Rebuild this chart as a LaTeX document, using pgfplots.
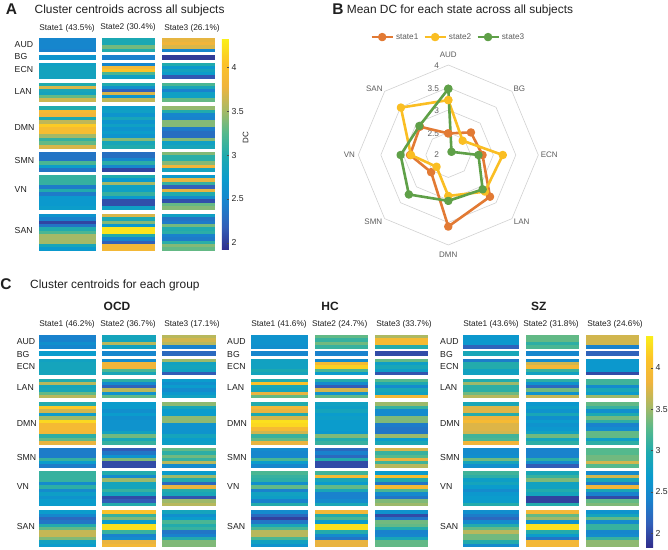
\documentclass[border=0pt]{standalone}
\usepackage{pgfplots}
\usepackage{pgfplotstable}
\usepackage{fontspec}
\setmainfont{Liberation Sans}
\pgfplotsset{compat=1.18}
\usepgfplotslibrary{polar}
\pgfdeclareplotmark{cell}{\pgfpathrectangle{\pgfpoint{-\pgfplotmarksize}{-1.85pt}}{\pgfpoint{2\pgfplotmarksize}{3.7pt}}\pgfusepathqfill}
\pgfplotstableread{
y A1 A2 A3 O1 O2 O3 H1 H2 H3 Z1 Z2 Z3
40.35 2.5 2.95 3.75 2.4 2.85 3.6 2.6 3.3 3.55 2.65 3.3 3.7
43.78 2.5 2.95 3.8 2.4 2.85 3.7 2.6 3.1 3.95 2.65 3.3 3.7
47.22 2.5 3.35 3.7 2.55 3.6 3.6 2.6 3.35 3.95 2.65 3.05 3.7
50.65 2.45 3.0 2.5 2.45 2.8 2.4 2.55 3.1 3.0 2.15 3.2 2.4
56.85 2.65 2.45 2.0 2.7 2.45 2.2 2.45 2.4 2.0 2.9 2.45 2.15
58.15 2.65 2.45 2.0 2.7 2.45 2.2 2.45 2.4 2.0 2.9 2.45 2.15
64.85 2.8 2.5 3.0 2.8 2.5 3.5 2.8 2.5 3.3 2.35 2.5 2.65
67.93 2.85 3.85 2.7 2.85 3.85 2.8 2.8 3.95 2.75 3.0 3.7 2.65
71 2.85 4.05 2.85 2.85 3.85 2.85 2.8 4.2 2.9 3.0 3.9 2.65
74.08 2.85 3.2 2.75 2.85 3.2 2.8 2.95 3.2 2.75 2.8 3.1 2.65
77.15 2.85 2.8 2.15 2.85 2.9 2.1 2.85 2.7 2.05 2.8 2.8 2.0
84.85 3.0 3.0 3.2 3.0 3.05 2.7 3.0 3.0 3.25 3.0 3.05 3.15
87.91 3.7 2.6 2.9 3.6 2.5 2.55 4.1 2.5 2.95 3.5 2.6 3.15
90.97 2.9 2.2 2.45 2.85 2.15 2.7 2.9 2.1 2.5 3.05 2.2 2.5
94.03 2.85 3.7 2.8 2.9 3.6 2.5 2.85 3.7 2.9 3.05 3.35 2.9
97.09 3.3 2.65 2.8 3.3 2.6 2.65 3.8 2.6 2.8 3.35 2.6 2.7
100.15 3.65 3.6 3.3 3.6 3.3 2.8 3.3 3.3 3.9 3.6 3.65 3.5
107.85 3.0 2.75 3.45 3.0 2.7 3.45 3.0 2.8 3.5 2.9 2.65 3.3
111.38 3.9 2.8 3.0 4.15 2.7 2.9 3.9 2.75 3.1 3.75 2.75 3.1
114.9 3.8 2.65 2.5 3.7 2.55 2.7 3.8 2.85 2.5 3.75 2.6 2.55
118.43 2.95 2.9 2.45 2.7 2.7 2.7 2.95 2.7 2.5 3.0 2.9 2.95
121.96 3.6 2.65 3.4 3.5 2.55 3.45 3.7 2.75 3.4 3.8 2.55 3.35
125.49 4.1 2.8 3.4 4.25 2.6 3.45 4.3 2.7 3.4 3.95 2.7 3.05
129.01 3.95 2.65 2.4 3.95 2.6 2.6 4.25 2.7 2.35 3.75 2.6 2.4
132.54 3.95 2.75 2.3 3.95 2.6 2.6 3.95 2.7 2.3 3.75 2.65 2.5
136.07 3.5 2.65 2.3 3.9 2.8 2.6 3.7 2.65 2.3 3.7 2.8 3.3
139.6 3.1 3.4 3.4 3.05 3.35 2.85 3.1 3.4 3.5 3.15 3.35 3.3
143.12 3.3 2.9 2.8 3.3 2.9 2.7 3.3 3.0 2.7 3.2 2.85 2.75
146.65 3.7 3.0 2.9 3.8 3.1 2.75 3.8 3.1 2.9 3.85 3.05 3.05
153.85 2.35 2.3 3.4 2.35 2.1 3.3 2.5 2.2 3.7 2.5 2.4 3.25
157.01 2.35 2.3 3.05 2.35 2.3 3.05 2.45 2.4 3.1 2.5 2.4 3.25
160.17 2.35 2.5 3.05 2.35 2.6 3.35 2.45 2.2 3.25 2.55 2.4 3.35
163.33 3.2 3.05 3.4 3.1 3.4 3.1 3.2 3.0 3.8 3.35 3.05 3.35
166.49 2.75 2.5 3.8 2.7 2.0 3.6 2.7 2.0 3.15 2.85 2.5 3.7
169.65 2.35 2.05 2.85 2.35 2.0 2.5 2.45 2.0 3.6 2.55 2.1 3.25
176.85 3.1 3.0 2.7 3.1 3.0 2.7 3.2 3.15 2.7 3.15 2.9 2.5
180.33 3.1 2.7 3.75 3.1 2.5 3.5 3.1 3.95 4.0 3.05 3.1 3.7
183.81 3.1 3.5 3.1 3.1 3.5 3.0 3.05 2.9 3.0 2.75 3.4 2.9
187.28 2.4 2.8 2.2 2.5 2.85 2.2 2.55 2.7 2.3 2.85 2.8 2.35
190.76 3.0 2.8 3.75 3.05 2.85 3.8 3.3 3.3 3.95 2.7 2.8 3.85
194.24 2.4 3.1 3.0 2.5 3.1 3.0 2.4 2.9 3.2 2.5 3.0 2.9
197.72 2.7 2.7 2.55 2.75 2.85 2.9 2.8 2.4 2.5 2.65 2.85 2.4
201.19 2.7 2.1 2.1 2.6 2.0 2.05 2.75 2.4 2.3 2.7 1.95 2.0
204.67 2.7 2.1 3.3 2.7 2.1 3.5 2.4 2.5 3.4 2.7 1.95 3.3
208.15 2.75 2.8 3.4 2.7 3.0 3.6 3.0 2.9 3.5 3.0 3.0 3.4
215.85 2.65 3.7 2.8 2.7 4.1 2.85 2.5 3.9 2.6 2.55 3.9 2.6
219.18 2.45 2.95 2.35 2.45 3.1 2.55 2.2 3.0 2.0 2.35 3.3 2.85
222.51 2.05 3.4 2.4 2.2 3.4 2.7 1.95 3.2 2.3 2.2 3.5 3.3
225.84 2.35 2.7 3.35 2.3 2.7 3.2 2.3 2.7 3.35 2.5 2.6 2.5
229.17 3.0 4.25 3.0 3.0 4.3 3.0 2.9 4.3 3.3 3.0 4.3 3.1
232.5 3.2 4.25 3.05 3.3 4.3 3.1 3.2 4.3 3.0 3.3 4.3 3.1
235.83 3.5 3.0 2.45 3.65 3.1 2.3 3.6 3.0 2.4 3.6 3.0 2.45
239.16 3.5 2.5 2.4 3.65 2.4 2.4 3.6 2.5 2.45 3.35 2.7 2.5
242.49 3.5 2.2 3.05 3.4 2.5 3.0 3.2 2.3 2.9 3.35 2.3 3.1
245.82 2.9 3.85 3.4 2.8 3.8 3.4 2.8 3.8 3.3 3.0 3.9 3.45
249.15 2.7 3.85 3.3 2.7 3.9 3.4 2.6 3.8 3.3 2.5 3.9 3.45
}\cells
\pgfplotsset{
  colormap={parula}{rgb255=(48,45,140) rgb255=(50,95,185) rgb255=(25,130,205) rgb255=(10,155,205) rgb255=(30,170,175) rgb255=(85,185,140) rgb255=(170,185,100) rgb255=(240,180,60) rgb255=(252,195,40) rgb255=(250,240,25)},
  canvas/.style={at={(0pt,0pt)},anchor=south west,scale only axis,width=668pt,height=549pt,
    xmin=0,xmax=668,ymin=0,ymax=549,y dir=reverse,clip=false,
    axis x line=none,axis y line=none},
  hm/.style n args={2}{scatter,only marks,scatter src=explicit,mark=cell,mark size=#2pt,
    scatter/use mapped color={draw=none,fill=mapped color}},
  cb/.style={/pgf/number format/assume math mode=true,y dir=normal,
    axis line style={draw=none},ytick={2,2.5,3,3.5,4},yticklabels={2,2.5,3,3.5,4},
    yticklabel style={font=\fontsize{8.7}{9}\selectfont,color=black!85,xshift=-1pt},
    tick align=inside,ytick pos=right,
    major tick length=2pt,tick style={color=black!70,line width=.4pt}},
}
\newcommand{\col}[3]{\addplot[hm={}{#3}] table[x expr=#2,y=y,meta=#1]{\cells};}
\newcommand{\colC}[3]{\addplot[hm={}{#3}] table[x expr=#2,y expr=\thisrow{y}+296.3,meta=#1]{\cells};}
\definecolor{ttl}{gray}{0.12}
\definecolor{rad}{gray}{0.36}
\begin{document}
\begin{tikzpicture}
\useasboundingbox (0pt,0pt) rectangle (668pt,549pt);
% panel A
\begin{axis}[canvas,point meta min=1.92,point meta max=4.32,colorbar,
  colorbar style={cb,at={(222/668,1-39/549)},anchor=north west,width=7pt,height=211pt}]
\col{A1}{67.5}{28.5}
\col{A2}{128.5}{26.5}
\col{A3}{188.5}{26.5}
\end{axis}
% panel C
\begin{axis}[canvas,point meta min=1.83,point meta max=4.4,colorbar,
  colorbar style={cb,at={(646/668,1-335/549)},anchor=north west,width=7pt,height=212pt}]
\colC{O1}{67.5}{28.5}
\colC{O2}{129}{27}
\colC{O3}{189}{27}
\colC{H1}{279.5}{28.5}
\colC{H2}{341.5}{26.5}
\colC{H3}{401.5}{26.5}
\colC{Z1}{491}{28}
\colC{Z2}{552.5}{26.5}
\colC{Z3}{612.5}{26.5}
\end{axis}
% texts
\begin{scope}[shift={(0pt,549pt)},x=1pt,y=-1pt,every node/.style={inner sep=0pt,text=ttl}]
\node[font=\bfseries\fontsize{15.5}{15}\selectfont] at (11.5,9) {A};
\node[font=\bfseries\fontsize{15.5}{15}\selectfont] at (338,9) {B};
\node[font=\bfseries\fontsize{15.5}{15}\selectfont] at (6,284) {C};
\node[anchor=west,font=\fontsize{11.9}{12}\selectfont] at (34.5,10) {Cluster centroids across all subjects};
\node[anchor=west,font=\fontsize{11.9}{12}\selectfont] at (346.7,10) {Mean DC for each state across all subjects};
\node[anchor=west,font=\fontsize{11.9}{12}\selectfont] at (30,285) {Cluster centroids for each group};
\foreach \t/\x/\y in {State1 (43.5\%)/67/28,State2 (30.4\%)/128/27,State3 (26.1\%)/192/28,
  State1 (46.2\%)/67/324,State2 (36.7\%)/128/324,State3 (17.1\%)/192/324,
  State1 (41.6\%)/279/324,State2 (24.7\%)/339.7/324,State3 (33.7\%)/404/324,
  State1 (43.6\%)/491/324,State2 (31.8\%)/551/324,State3 (24.6\%)/615/324}
  \node[font=\fontsize{8.3}{8}\selectfont] at (\x,\y) {\t};
\foreach \t/\y in {AUD/45,BG/57,ECN/70,LAN/92,DMN/128,SMN/161,VN/190,SAN/231}
  \node[anchor=west,font=\fontsize{8.7}{9}\selectfont] at (14.5,\y) {\t};
\foreach \t/\y in {AUD/342,BG/355,ECN/367,LAN/388,DMN/424,SMN/458,VN/487,SAN/527}{
  \node[anchor=west,font=\fontsize{8.7}{9}\selectfont] at (16.7,\y) {\t};
  \node[anchor=west,font=\fontsize{8.7}{9}\selectfont] at (227,\y) {\t};
  \node[anchor=west,font=\fontsize{8.7}{9}\selectfont] at (440,\y) {\t};
}
\foreach \t/\x in {OCD/117,HC/330,SZ/538.7}
  \node[font=\bfseries\fontsize{12}{12}\selectfont] at (\x,306) {\t};
\node[rotate=90,font=\fontsize{8}{8}\selectfont] at (245.7,138) {DC};
\foreach \t/\x/\y in {AUD/448.3/55,BG/519.3/89,ECN/549.3/154.3,LAN/521.7/221.7,DMN/448.3/254.3,SMN/373.3/221.7,VN/349.3/154.3,SAN/374.3/89}
  \node[text=rad,font=\fontsize{8}{8}\selectfont] at (\x,\y) {\t};
\foreach \t/\x/\y in {4/436.7/65.7,3.5/433.3/88.3,3/436.7/111,2.5/433.3/134,2/436.7/155}
  \node[text=rad,font=\fontsize{8.3}{9}\selectfont] at (\x,\y) {\t};
\end{scope}
% panel B
\begin{polaraxis}[at={(448.3pt,394pt)},anchor=center,scale only axis,width=180pt,height=180pt,
  hide axis,xmin=0,xmax=360,ymin=0,ymax=2,clip=false,
  y filter/.code={\pgfmathparse{#1-2}},
  legend columns=3,
  legend style={draw=none,fill=none,at={(0.5,1.155)},anchor=center,
    font=\fontsize{8.2}{8}\selectfont,text=rad,
    /tikz/every even column/.append style={column sep=3pt}},
  legend image code/.code={\draw[mark repeat=2,mark phase=2,#1] plot coordinates {(0pt,0pt)(10.5pt,0pt)(21pt,0pt)};},
  every axis plot post/.append style={line join=round}]
\foreach \r in {2.5,3,3.5,4}{
\edef\tmp{\noexpand\addplot[forget plot,draw=black!18,line width=.6pt] coordinates {(0,\r)(45,\r)(90,\r)(135,\r)(180,\r)(225,\r)(270,\r)(315,\r)(360,\r)};}\tmp
}
\addplot[color={rgb,255:red,226;green,122;blue,52},line width=2.6pt,mark=*,mark size=2.9pt] coordinates {(90,2.48)(45,2.71)(0,2.76)(315,3.31)(270,3.59)(225,2.54)(180,2.85)(135,2.89)(90,2.48)};
\addplot[color={rgb,255:red,250;green,190;blue,35},line width=2.6pt,mark=*,mark size=2.9pt] coordinates {(90,3.22)(45,2.45)(0,3.21)(315,3.15)(270,2.91)(225,2.37)(180,2.83)(135,3.49)(90,3.22)};
\addplot[color={rgb,255:red,95;green,160;blue,72},line width=2.6pt,mark=*,mark size=2.9pt] coordinates {(90,3.47)(45,2.10)(0,2.67)(315,3.08)(270,3.02)(225,3.24)(180,3.06)(135,2.91)(90,3.47)};
\legend{state1,state2,state3}
\end{polaraxis}
\end{tikzpicture}
\end{document}
